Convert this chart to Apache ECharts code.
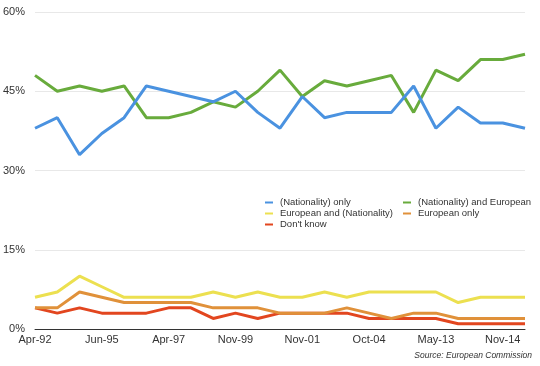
<!DOCTYPE html>
<html><head><meta charset="utf-8">
<script src="https://cdn.jsdelivr.net/npm/echarts@6/dist/echarts.min.js"></script>
<style>html,body{margin:0;padding:0;background:#fff}#c{width:540px;height:366px}</style>
</head><body><div id="c"></div>
<script>
const categories = ['Apr-92','Apr-93','Nov-94','Jun-95','Apr-96','Oct-96','Apr-97','Nov-97','Oct-98','Nov-99','Nov-00','Apr-01','Nov-01','Apr-02','Nov-02','Oct-04','Nov-05','Nov-10','May-13','Nov-13','May-14','Nov-14','May-15'];
const nationalityOnly = [38,40,33,37,40,46,45,44,43,45,41,38,44,40,41,41,41,46,38,42,39,39,38];
const nationalityAndEuropean = [48,45,46,45,46,40,40,41,43,42,45,49,44,47,46,47,48,41,49,47,51,51,52];
const europeanAndNationality = [6,7,10,8,6,6,6,6,7,6,7,6,6,7,6,7,7,7,7,5,6,6,6];
const europeanOnly = [4,4,7,6,5,5,5,5,4,4,4,3,3,3,4,3,2,3,3,2,2,2,2];
const dontKnow = [4,3,4,3,3,3,4,4,2,3,2,3,3,3,3,2,2,2,2,1,1,1,1];
const yTicks = {min:0, max:60, interval:15};

const names = ['(Nationality) only','(Nationality) and European','European and (Nationality)','European only',"Don't know"];
const colors = ['#4a92e0','#68ab3c','#ece050','#e0913a','#e2461f'];
const datas = [nationalityOnly, nationalityAndEuropean, europeanAndNationality, europeanOnly, dontKnow];

const chart = echarts.init(document.getElementById('c'));
const legendCommon = {
  orient:'vertical', itemGap:0, itemWidth:8, itemHeight:2, icon:'rect',
  textStyle:{fontSize:9.5, color:'#333', fontFamily:'Liberation Sans, Arial, sans-serif', padding:[0,0,0,2], lineHeight:11},
  padding:0
};
chart.setOption({
  animation:false,
  grid:{left:35, right:15, top:12, bottom:37, containLabel:false},
  legend:[
    Object.assign({left:265, top:197, data:[names[0],names[2],names[4]]}, legendCommon),
    Object.assign({left:403, top:197, data:[names[1],names[3]]}, legendCommon)
  ],
  xAxis:{type:'category', data:categories, boundaryGap:false,
    axisTick:{show:false},
    axisLine:{lineStyle:{color:'#333', width:1}},
    axisLabel:{interval:2, color:'#333', fontSize:11, margin:5, fontFamily:'Liberation Sans, Arial, sans-serif'}},
  yAxis:{type:'value', min:yTicks.min, max:yTicks.max, interval:yTicks.interval,
    axisLine:{show:false}, axisTick:{show:false},
    splitLine:{lineStyle:{color:'#e8e8e8'}},
    axisLabel:{formatter:'{value}%', color:'#333', fontSize:11, margin:10, fontFamily:'Liberation Sans, Arial, sans-serif'}},
  graphic:[{type:'text', right:8, top:351, style:{text:'Source: European Commission', fontSize:8.5, fontStyle:'italic', fill:'#333', fontFamily:'Liberation Sans, Arial, sans-serif'}}],
  series: names.map((n,i)=>({name:n, type:'line', data:datas[i], symbol:'none',
    lineStyle:{width:3, color:colors[i]}, itemStyle:{color:colors[i]}, z:10-i}))
});
</script></body></html>
